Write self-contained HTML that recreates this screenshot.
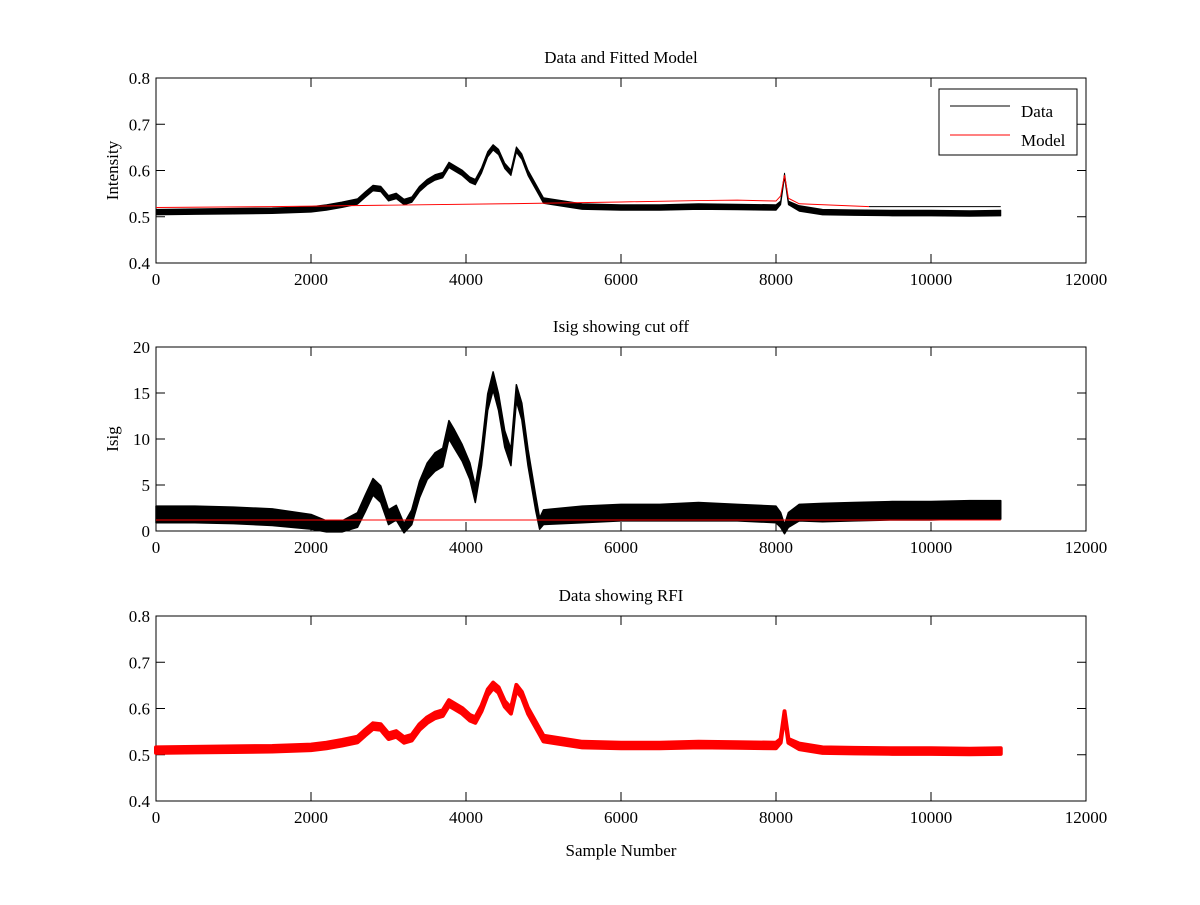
<!DOCTYPE html>
<html><head><meta charset="utf-8"><style>
body{margin:0;background:#fff;}
svg text{font-family:"Liberation Serif",serif;font-size:17px;fill:#000;}
</style></head><body>
<svg id="fig" width="1200" height="900" xmlns="http://www.w3.org/2000/svg"></svg>
<script>
const sampleX=[0,500,1000,1500,2000,2200,2400,2600,2700,2800,2900,3000,3100,3200,3300,3400,3500,3600,3700,3780,3850,3950,4050,4120,4200,4280,4350,4420,4500,4580,4650,4720,4800,4900,4950,5000,5500,6000,6500,7000,7500,8000,8060,8110,8160,8300,8600,9000,9500,10000,10500,10900];
const dataVals=[.510,.511,.512,.513,.516,.52,.526,.533,.548,.562,.56,.540,.545,.532,.537,.56,.575,.585,.59,.612,.605,.595,.58,.575,.600,.635,.650,.64,.61,.595,.645,.630,.595,.565,.55,.535,.522,.520,.520,.522,.521,.520,.53,.59,.53,.518,.510,.509,.508,.508,.507,.508];
const dataNoise=[.006,.006,.006,.006,.006,.006,.006,.006,.006,.006,.006,.006,.006,.006,.006,.006,.006,.006,.006,.006,.006,.006,.006,.006,.006,.006,.006,.006,.006,.006,.006,.006,.006,.006,.006,.006,.006,.006,.006,.006,.006,.006,.004,.004,.004,.006,.006,.006,.006,.006,.006,.006];
const isigVals=[1.8,1.8,1.7,1.5,1.0,0.5,0.5,1.2,3,4.8,4,1.5,2,0.3,1.5,4.5,6.5,7.5,8,11,10,8.5,6.5,4,8,14,16.3,14,10,8,15,13,8,3,0.8,1.5,1.8,2,2,2.1,2,1.8,1.2,0.2,1.2,2,2,2.1,2.2,2.2,2.3,2.3];
const isigNoise=[0.9,0.9,0.9,0.9,0.8,0.6,0.6,0.8,0.9,0.9,0.9,0.8,0.8,0.5,0.8,0.9,0.9,1,1,1,1,0.9,0.9,0.9,0.9,0.9,1,0.9,0.9,0.9,0.9,0.9,0.9,0.8,0.6,0.8,0.9,0.9,0.9,1,0.9,0.9,0.8,0.5,0.8,0.9,1,1,1,1,1,1];
const modelX=[0,1500,3000,4500,6000,7000,7500,8000,8060,8110,8160,8300,9200];
const modelVals=[.520,.522,.525,.528,.532,.535,.536,.534,.545,.59,.54,.528,.522];
const baselineX=[9200,10900];
const baselineVals=[.522,.522];
const cutoffX=[0,10900];
const cutoffVals=[1.2,1.2];
const xTicks=[0,2000,4000,6000,8000,10000,12000];
const yTicksI=[0.4,0.5,0.6,0.7,0.8];
const yTicksS=[0,5,10,15,20];

const svg=document.getElementById('fig');
const NS='http://www.w3.org/2000/svg';
function mk(tag,attrs,parent){const e=document.createElementNS(NS,tag);for(const k in attrs)e.setAttribute(k,attrs[k]);(parent||svg).appendChild(e);return e;}
const L=156,R=1086;
function xs(v){return L+(v/12000)*(R-L);}
function axes(top,bot,ymin,ymax,yt,title,ylabel,name){
  const g=mk('g',{});
  
  
  const ys=v=>bot-(v-ymin)/(ymax-ymin)*(bot-top);
  mk('rect',{x:L,y:top,width:R-L,height:bot-top,fill:'none',stroke:'#000','stroke-width':1},g);
  xTicks.forEach(t=>{const x=xs(t);mk('line',{x1:x,x2:x,y1:bot,y2:bot-9,stroke:'#000'},g);mk('line',{x1:x,x2:x,y1:top,y2:top+9,stroke:'#000'},g);
    const tx=mk('text',{x:x,y:bot+22,'text-anchor':'middle'},g);tx.textContent=t;});
  yt.forEach(t=>{const y=ys(t);mk('line',{x1:L,x2:L+9,y1:y,y2:y,stroke:'#000'},g);mk('line',{x1:R,x2:R-9,y1:y,y2:y,stroke:'#000'},g);
    const tx=mk('text',{x:L-6,y:y+6,'text-anchor':'end'},g);tx.textContent=t;});
  const tt=mk('text',{x:(L+R)/2,y:top-15,'text-anchor':'middle'},g);tt.textContent=title;
  
  if(ylabel){const yl=mk('text',{x:0,y:0,'text-anchor':'middle',transform:`translate(118,${(top+bot)/2}) rotate(-90)`},g);yl.textContent=ylabel;
    }
  return ys;
}
function band(ys,c,n,color,sw,name){
  let up=sampleX.map((x,i)=>xs(x)+','+ys(c[i]+n[i]));
  let lo=sampleX.map((x,i)=>xs(x)+','+ys(c[i]-n[i])).reverse();
  const p=mk('polygon',{points:up.concat(lo).join(' '),fill:color,stroke:color,'stroke-width':sw,'stroke-linejoin':'round'});
  
  
}
function line(ys,X,Y,color,sw,name){
  const p=mk('polyline',{points:X.map((x,i)=>xs(x)+','+ys(Y[i])).join(' '),fill:'none',stroke:color,'stroke-width':sw});
  
  
}
let ys1=axes(78,263,0.4,0.8,yTicksI,'Data and Fitted Model','Intensity','top');
band(ys1,dataVals,dataNoise,'#000',1,'data-series');
line(ys1,modelX,modelVals,'#f00',1,'model-series');
line(ys1,baselineX,baselineVals,'#000',1,'model-baseline');
const lg=mk('g',{});


mk('rect',{x:939,y:89,width:138,height:66,fill:'#fff',stroke:'#000'},lg);
mk('line',{x1:950,x2:1010,y1:106,y2:106,stroke:'#000'},lg);
let t1=mk('text',{x:1021,y:117},lg);t1.textContent='Data';
mk('line',{x1:950,x2:1010,y1:135,y2:135,stroke:'#f00'},lg);
let t2=mk('text',{x:1021,y:146},lg);t2.textContent='Model';
let ys2=axes(347,531,0,20,yTicksS,'Isig showing cut off','Isig','middle');
band(ys2,isigVals,isigNoise,'#000',1.5,'isig-series');
line(ys2,cutoffX,cutoffVals,'#f00',1,'cutoff-line');
let ys3=axes(616,801,0.4,0.8,yTicksI,'Data showing RFI','','bottom');
band(ys3,dataVals,dataNoise,'#f00',4,'rfi-series');
const xl=mk('text',{x:(L+R)/2,y:856,'text-anchor':'middle'});xl.textContent='Sample Number';


</script>
</body></html>
